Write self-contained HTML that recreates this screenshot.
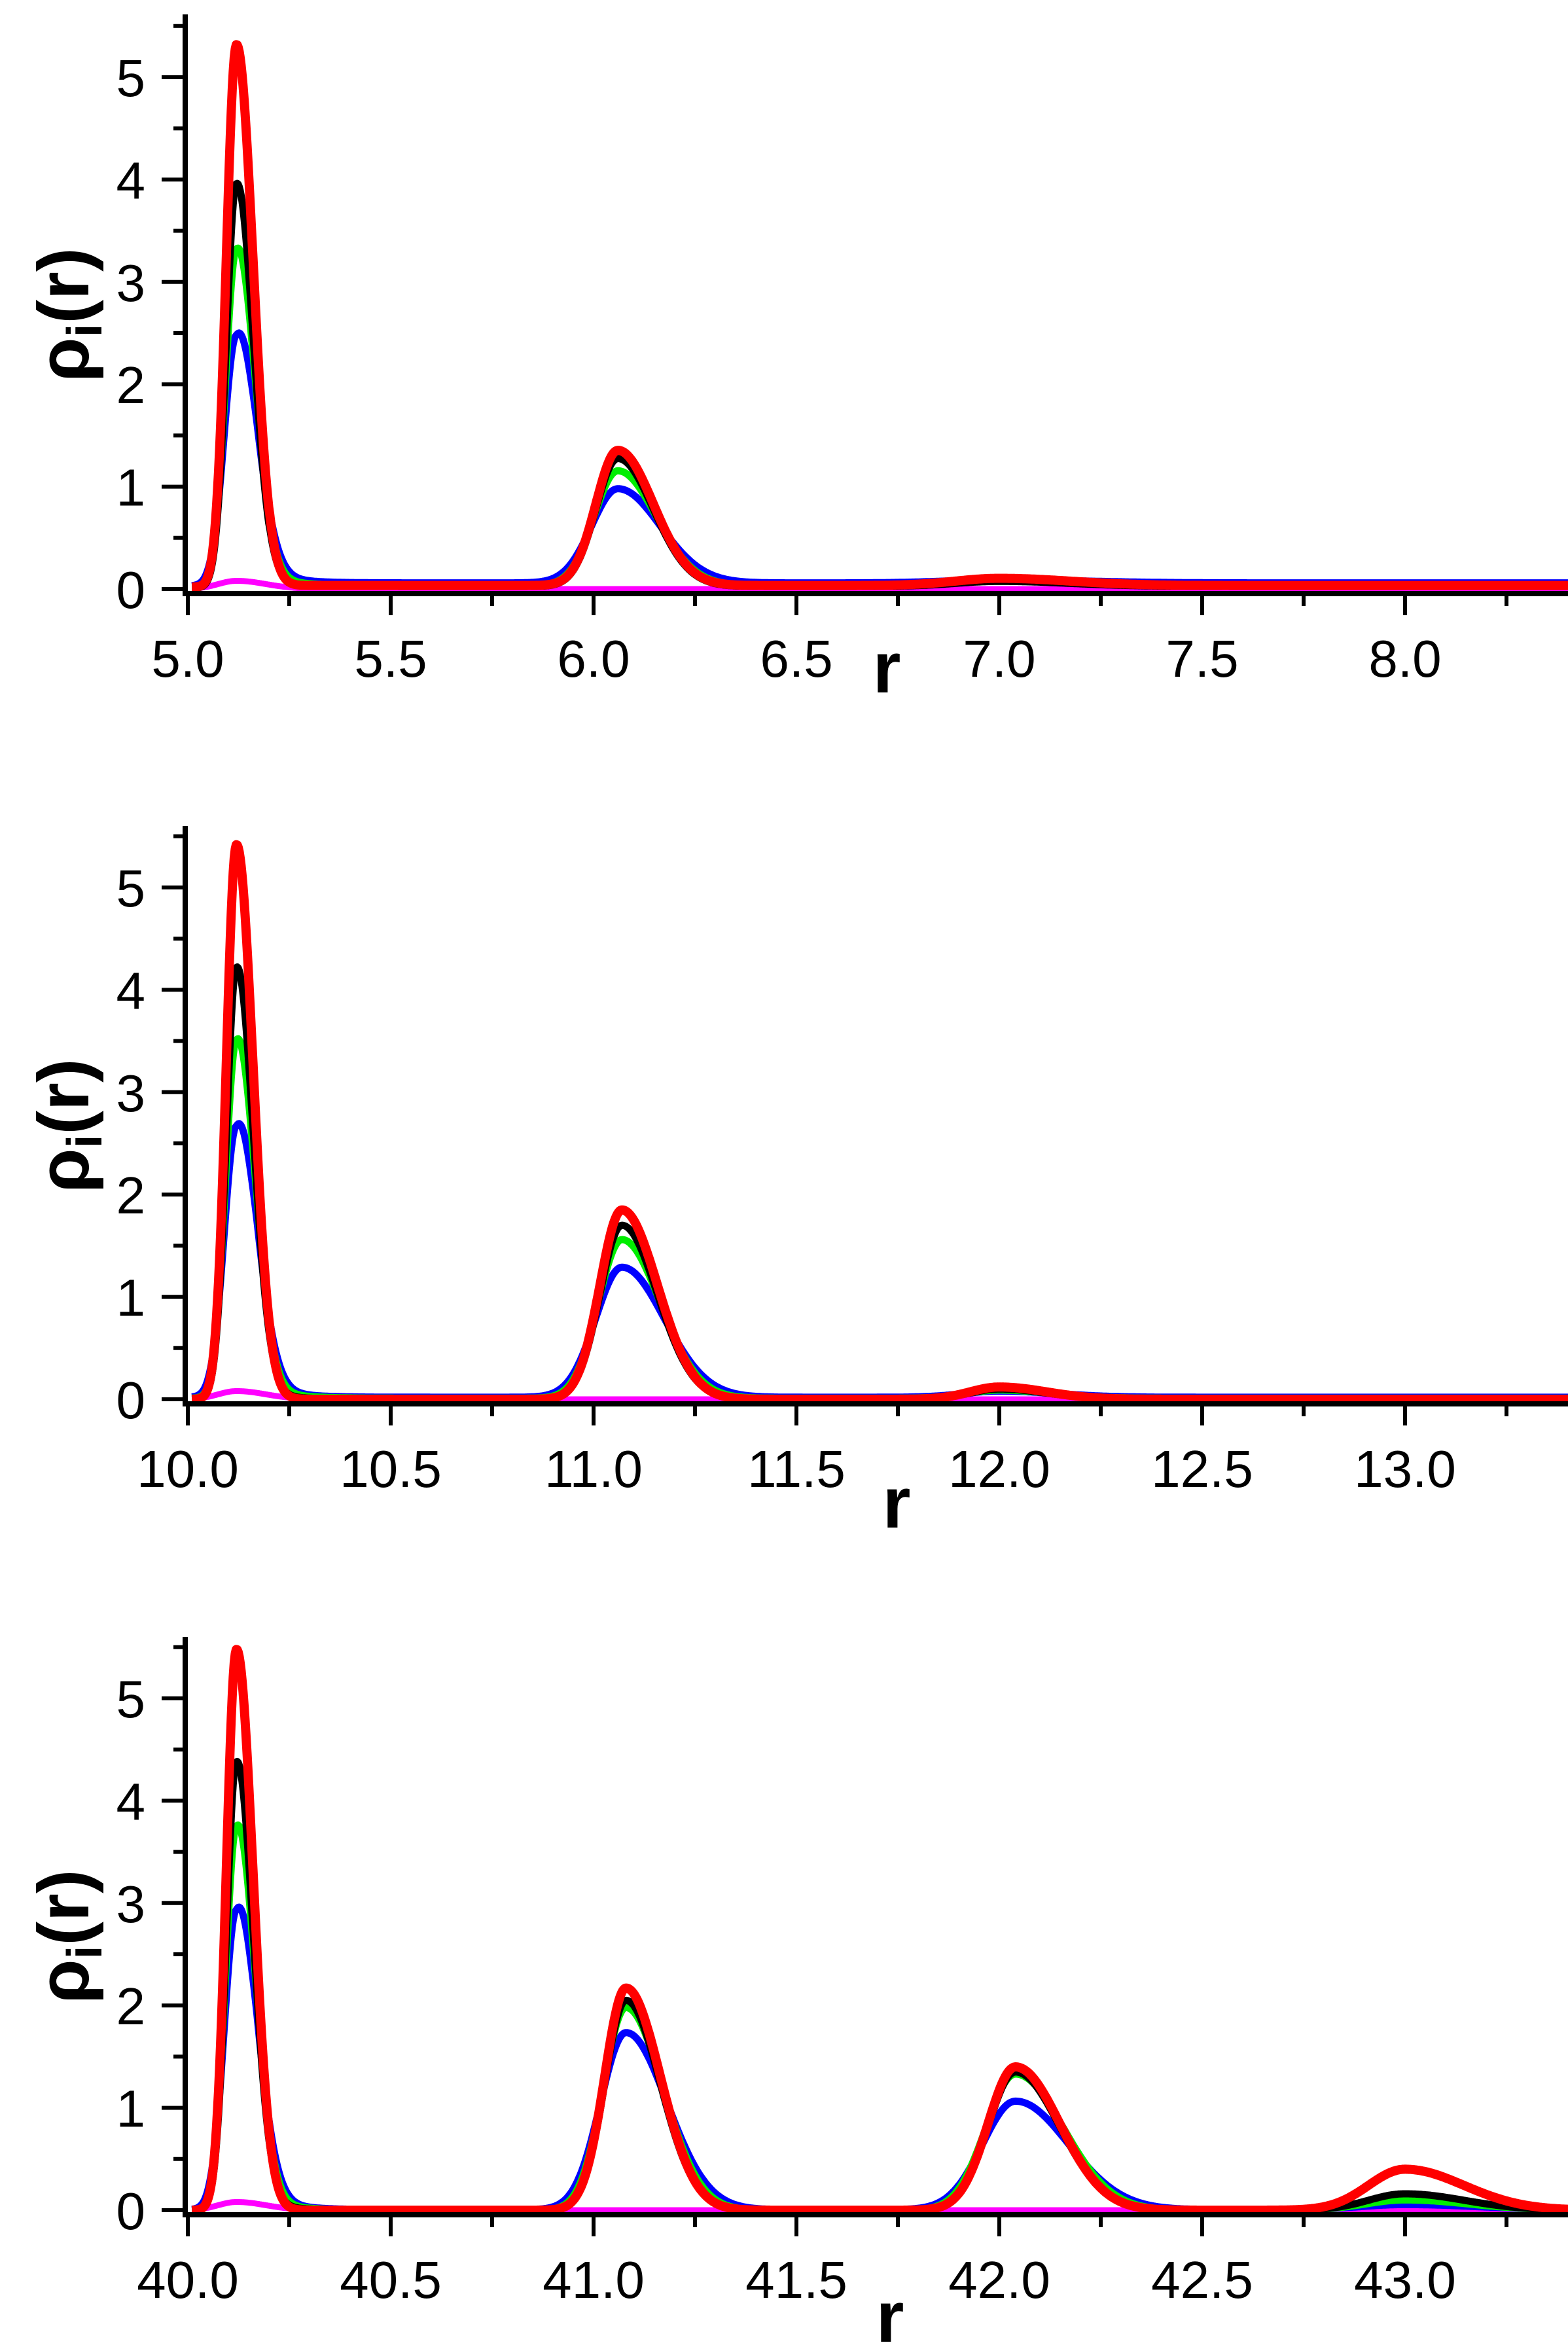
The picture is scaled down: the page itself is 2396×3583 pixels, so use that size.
<!DOCTYPE html>
<html><head><meta charset="utf-8"><style>
html,body{margin:0;padding:0;background:#fff;}
svg{display:block;}
text{font-family:"Liberation Sans",sans-serif;fill:#000;}
</style></head><body>
<svg id="s" width="2396" height="3583" xmlns="http://www.w3.org/2000/svg">
<g id="g"></g>
<g>
<text x="1355" y="1058" font-size="110" font-weight="bold" text-anchor="middle">r</text>
<text x="1370" y="2334" font-size="110" font-weight="bold" text-anchor="middle">r</text>
<text x="1360" y="3578" font-size="110" font-weight="bold" text-anchor="middle">r</text>
</g>
</svg>
<script>
var NS="http://www.w3.org/2000/svg",G=document.getElementById('g');
function el(t,a,txt){var e=document.createElementNS(NS,t);for(var k in a)e.setAttribute(k,a[k]);if(txt!=null)e.textContent=txt;G.appendChild(e);return e;}
var panels=[
 {x0:5,y0:900,top:22,lblY:1034,pk:[[5.12,[0.08,2.45,3.3,3.95,5.3],0.028],[6.06,[0.0,0.92,1.12,1.25,1.32],0.06],[7.0,[0.0,0.03,0.04,0.05,0.07],0.12]],base:[0,0.03,0.02,0.01,0.02]},
 {x0:10,y0:2138,top:1262,lblY:2272,pk:[[10.12,[0.08,2.65,3.5,4.22,5.42],0.028],[11.07,[0.0,1.27,1.55,1.7,1.85],0.06],[12.0,[0.0,0.06,0.08,0.1,0.12],0.08]],base:[0,0.02,0.01,0.0,0.0]},
 {x0:40,y0:3377,top:2501,lblY:3511,pk:[[40.12,[0.08,2.93,3.75,4.38,5.48],0.028],[41.08,[0.0,1.73,1.98,2.05,2.17],0.058],[42.04,[0.0,1.06,1.33,1.35,1.4],0.075],[43.0,[0.0,0.05,0.1,0.16,0.4],0.1]],base:[0,0.005,0.0,0,0]}
];
var cols=['#ff00ff','#0000ff','#00ee00','#000000','#ff0000'],lw=[9,11,11,11,14];
var X0=287,SX=620,SY=156.4;
panels.forEach(function(p){
 var sx=function(v){return X0+(v-p.x0)*SX;},sy=function(v){return p.y0-v*SY;};
 for(var c=0;c<5;c++){
  var d='';
  for(var i=0;i<=1400;i++){
   var x=p.x0+0.01+i*(3.4/1400),y=p.base[c];
   p.pk.forEach(function(k,j){
     var h=k[1][c],s=k[2]*(c==1?1.2:(c==2?1.08:1));
     if(c==0){s=0.05;}
     var dx=x-k[0],ss=dx>0?s*1.45:s*0.9;
     y+=h*Math.exp(-dx*dx/(2*ss*ss));
     if(j==0&&c>0&&c<4&&dx>0)y+=h*0.05*(4-c)*Math.exp(-dx/0.06)*(dx>0.05?1:dx/0.05);
   });
   if(p.x0==5&&c>0&&x>5.2)y+=0.015*(c==1?2:1);
   d+=(i?'L':'M')+sx(x).toFixed(1)+' '+sy(y).toFixed(1);
  }
  el('path',{d:d,fill:'none',stroke:cols[c],'stroke-width':lw[c],'stroke-linejoin':'round'});
 }
 el('line',{x1:X0-4,y1:p.top,x2:X0-4,y2:p.y0+11,stroke:'#000','stroke-width':8});
 el('line',{x1:X0-8,y1:p.y0+7,x2:2396,y2:p.y0+7,stroke:'#000','stroke-width':8});
 for(var v=0;v<=5.5;v+=0.5){
  var y=sy(v),maj=(v%1==0);
  el('line',{x1:maj?X0-40:X0-22,y1:y,x2:X0,y2:y,stroke:'#000','stroke-width':6});
  if(maj)el('text',{x:222,y:y+29,'font-size':80,'text-anchor':'end'},String(v));
 }
 for(var k=0;k<=13;k++){
  var xv=p.x0+k*0.25,x=sx(xv),maj=(k%2==0);
  el('line',{x1:x,y1:p.y0+8,x2:x,y2:p.y0+(maj?40:26),stroke:'#000','stroke-width':6});
  if(maj)el('text',{x:x,y:p.lblY,'font-size':80,'text-anchor':'middle'},xv.toFixed(1));
 }
 var ty=(p.top+p.y0)/2+20;
 var t=el('text',{x:0,y:0,'font-size':110,'font-weight':'bold',transform:'translate(135,'+ty+') rotate(-90)','text-anchor':'middle'});
 t.innerHTML='ρ<tspan font-size="75" dy="20">i</tspan><tspan dy="-20">(r)</tspan>';
});
</script>
</body></html>
